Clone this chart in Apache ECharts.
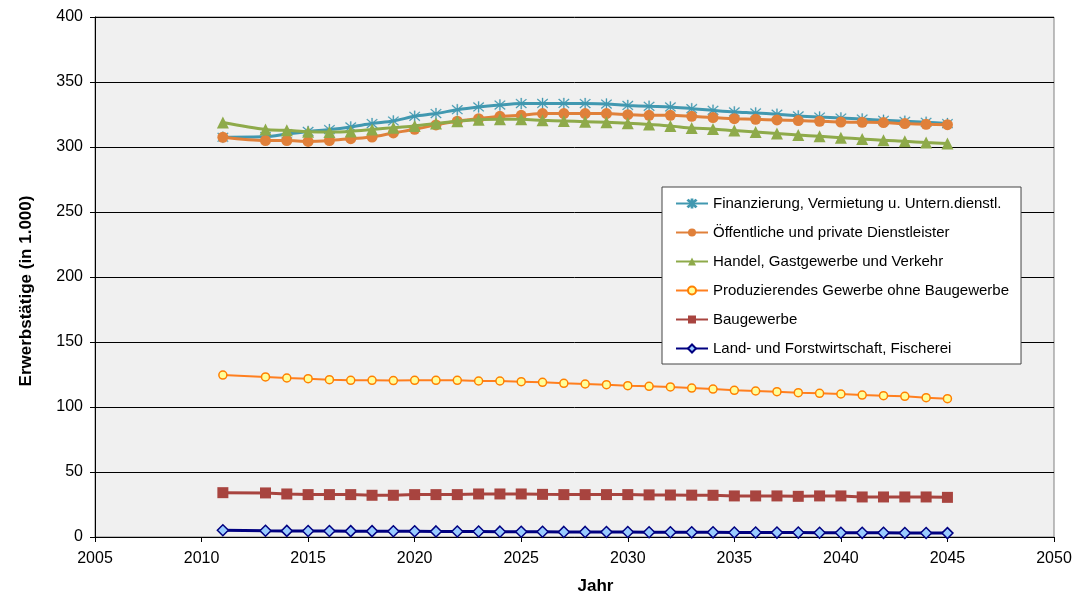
<!DOCTYPE html>
<html><head><meta charset="utf-8">
<script src="https://cdn.jsdelivr.net/npm/echarts@6/dist/echarts.min.js"></script>
<style>html,body{margin:0;padding:0;background:#fff}#c{width:1078px;height:596px}</style>
</head><body><div id="c"></div>
<script>
const years = [2011,2013,2014,2015,2016,2017,2018,2019,2020,2021,2022,2023,2024,2025,2026,2027,2028,2029,2030,2031,2032,2033,2034,2035,2036,2037,2038,2039,2040,2041,2042,2043,2044,2045];
const seriesNames = ["Finanzierung, Vermietung u. Untern.dienstl.","Öffentliche und private Dienstleister","Handel, Gastgewerbe und Verkehr","Produzierendes Gewerbe ohne Baugewerbe","Baugewerbe","Land- und Forstwirtschaft, Fischerei"];
const finanz = [307.5,308,310,312,313.4,315.4,318,320,323.6,325.7,328.7,330.8,332.3,333.4,333.5,333.5,333.4,333,332,331.3,330.8,329.5,328.2,327,326.2,325.2,323.9,323,322.3,321.5,320.5,319.8,319,318];
const oeff = [307.5,305,305,304.3,305,306.4,307.7,310.8,313.6,317,319.8,321.8,323.6,324.4,325.7,325.7,325.7,325.7,324.9,324.4,324.4,323.6,322.6,321.8,321.3,320.8,320.3,319.8,319.2,319,318.8,318,317.5,317.2];
const handel = [318.8,313.4,312.8,311.8,311.5,312,313.4,314.9,316.2,318,319.8,321,321.3,321.3,320.5,320,319.5,319,318.3,317.3,316.2,314.6,313.9,312.6,311.5,310.3,309.2,308.2,307.2,306.2,305.1,304.4,303.4,302.6];
const prod = [124.6,123.1,122.3,121.8,121,120.5,120.5,120.3,120.5,120.5,120.5,120,120,119.5,119,118.2,117.7,117.2,116.4,115.9,115.4,114.6,113.8,112.8,112.3,111.8,111,110.5,110,109.2,108.7,108.2,107.2,106.4];
const bau = [34.1,33.9,33.1,32.6,32.6,32.6,32.1,32.1,32.6,32.6,32.6,33.1,33.1,33.1,32.8,32.6,32.6,32.6,32.6,32.4,32.3,32.2,32.1,31.6,31.6,31.6,31.3,31.6,31.6,30.8,30.8,30.8,30.8,30.5];
const land = [5.2,4.8,4.7,4.6,4.6,4.5,4.5,4.4,4.4,4.3,4.2,4.2,4.1,4.0,4.0,3.9,3.9,3.8,3.8,3.7,3.7,3.6,3.6,3.5,3.5,3.4,3.4,3.3,3.3,3.2,3.2,3.1,3.1,3.0];

const pairs = arr => years.map((y,i)=>[y,arr[i]]);
const FONT = '"Liberation Sans", Arial, sans-serif';
const asterisk = 'path://M9.2 0L10.8 0L10.8 20L9.2 20Z M1.6 2.7L2.7 1.6L18.4 17.3L17.3 18.4Z M17.3 1.6L18.4 2.7L2.7 18.4L1.6 17.3Z';

const chart = echarts.init(document.getElementById('c'), null, {renderer:'canvas'});
chart.setOption({
  animation:false,
  textStyle:{fontFamily:FONT},
  grid:{left:95,top:17,right:24,bottom:59,outerBoundsMode:'none',containLabel:false,show:true,backgroundColor:'#f0f0f0',borderColor:'#808080',borderWidth:1},
  xAxis:{type:'value',min:2005,max:2050,interval:5,
    name:'Jahr',nameLocation:'middle',nameGap:41,
    nameTextStyle:{fontFamily:FONT,fontSize:17,fontWeight:'bold',color:'#000',padding:[0,0,0,42]},
    axisLine:{show:true,lineStyle:{color:'#000',width:1}},
    axisTick:{show:true,length:5,lineStyle:{color:'#000'}},
    axisLabel:{color:'#000',fontSize:16,margin:14,fontFamily:FONT,formatter:v=>String(v)},
    splitLine:{show:false}},
  yAxis:{type:'value',min:0,max:400,interval:50,
    name:'Erwerbstätige (in 1.000)',nameLocation:'middle',nameGap:60,nameRotate:90,
    nameTextStyle:{fontFamily:FONT,fontSize:17,fontWeight:'bold',color:'#000',padding:[0,28,0,0]},
    axisLine:{show:true,lineStyle:{color:'#000',width:1}},
    axisTick:{show:true,length:5,lineStyle:{color:'#000'}},
    axisLabel:{color:'#000',fontSize:16,margin:12,fontFamily:FONT},
    splitLine:{show:true,lineStyle:{color:'#000',width:1}}},
  legend:{orient:'vertical',left:662,top:187,
    backgroundColor:'#fff',borderColor:'#444',borderWidth:1,borderRadius:0,
    padding:[9,12,8,13],itemGap:14,itemWidth:32,itemHeight:10,
    textStyle:{fontFamily:FONT,fontSize:15,color:'#000'},
    data:seriesNames},
  series:[
    {name:seriesNames[3],type:'line',data:pairs(prod),z:3,
      lineStyle:{color:'#ff7f1f',width:2},symbol:'circle',symbolSize:8,
      itemStyle:{color:'#ffff99',borderColor:'#ff8000',borderWidth:1.5}},
    {name:seriesNames[4],type:'line',data:pairs(bau),z:3,
      lineStyle:{color:'#a8443f',width:3},symbol:'rect',symbolSize:11,
      itemStyle:{color:'#a8443f',borderColor:'#a8443f',borderWidth:0}},
    {name:seriesNames[5],type:'line',data:pairs(land),z:3,
      lineStyle:{color:'#000080',width:3},symbol:'diamond',symbolSize:11,
      itemStyle:{color:'#99ccff',borderColor:'#000080',borderWidth:1.5}},
    {name:seriesNames[0],type:'line',data:pairs(finanz),smooth:0.3,z:4,
      lineStyle:{color:'#4198b0',width:3},symbol:asterisk,symbolSize:11,
      itemStyle:{color:'#4198b0',borderColor:'#4198b0',borderWidth:0.3}},
    {name:seriesNames[1],type:'line',data:pairs(oeff),smooth:0.3,z:5,
      lineStyle:{color:'#e0803a',width:3},symbol:'circle',symbolSize:11,
      itemStyle:{color:'#e0803a',borderColor:'#e0803a',borderWidth:0}},
    {name:seriesNames[2],type:'line',data:pairs(handel),smooth:0.3,z:6,
      lineStyle:{color:'#8eaa4a',width:3},symbol:'triangle',symbolSize:12,
      itemStyle:{color:'#8eaa4a',borderColor:'#8eaa4a',borderWidth:0}}
  ]
});
</script></body></html>
